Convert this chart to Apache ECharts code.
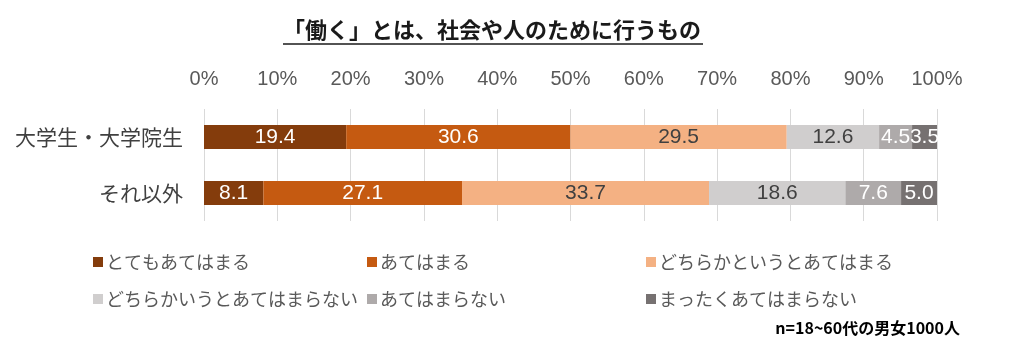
<!DOCTYPE html>
<html>
<head>
<meta charset="utf-8">
<script src="https://cdn.jsdelivr.net/npm/echarts@6/dist/echarts.min.js"></script>
<style>html,body{margin:0;padding:0;background:#fff;}#c{width:1016px;height:355px;}</style>
</head>
<body>
<div id="c"></div>
<script>
const titleText = '「働く」とは、社会や人のために行うもの';
const noteText = 'n=18~60代の男女1000人';
const categories = ['大学生・大学院生', 'それ以外'];
const seriesNames = ['とてもあてはまる', 'あてはまる', 'どちらかというとあてはまる', 'どちらかいうとあてはまらない', 'あてはまらない', 'まったくあてはまらない'];
const s1 = [19.4, 8.1];
const s2 = [30.6, 27.1];
const s3 = [29.5, 33.7];
const s4 = [12.6, 18.6];
const s5 = [4.5, 7.6];
const s6 = [3.5, 5.0];
const tickValues = [0, 10, 20, 30, 40, 50, 60, 70, 80, 90, 100];

const colors = ['#843C0C', '#C55A11', '#F4B183', '#D0CECE', '#AEAAAA', '#767171'];
const labelColors = ['#FFFFFF', '#FFFFFF', '#404040', '#404040', '#FFFFFF', '#FFFFFF'];
const seriesData = [s1, s2, s3, s4, s5, s6];
const CJK = '"Noto Sans CJK JP", "Noto Sans", sans-serif';
const NUM = '"Liberation Sans", Arial, sans-serif';

const chart = echarts.init(document.getElementById('c'), null, {renderer: 'canvas'});

const legendPos = [[88, 248], [362, 248], [641, 248], [88, 285], [362, 285], [641, 285]];

const option = {
  backgroundColor: '#ffffff',
  animation: false,
  title: {
    text: titleText,
    left: 283,
    top: 19,
    padding: 0,
    textStyle: {fontFamily: CJK, fontSize: 22, fontWeight: 'bold', color: '#1a1a1a'}
  },
  graphic: [
    {type: 'line', shape: {x1: 283, y1: 44, x2: 703, y2: 44}, style: {stroke: '#1a1a1a', lineWidth: 1.5}},
    {type: 'text', right: 56, top: 320, style: {text: noteText, font: 'bold 16px ' + CJK, fill: '#000'}}
  ],
  legend: seriesNames.map((n, i) => ({
    data: [n],
    left: legendPos[i][0],
    top: legendPos[i][1],
    itemWidth: 10,
    itemHeight: 10,
    itemGap: 0,
    icon: 'rect',
    selectedMode: false,
    textStyle: {fontFamily: CJK, fontSize: 18, color: '#595959', padding: [0, 0, 0, -2]}
  })),
  grid: {left: 204, right: 79, top: 109, height: 112, containLabel: false},
  xAxis: {
    type: 'value',
    position: 'top',
    min: 0,
    max: 100,
    interval: 10,
    axisLine: {show: false},
    axisTick: {show: false},
    splitLine: {show: true, lineStyle: {color: '#D9D9D9', width: 1}},
    axisLabel: {formatter: v => v + '%', fontFamily: NUM, fontSize: 20, color: '#595959', margin: 20}
  },
  yAxis: {
    type: 'category',
    data: categories,
    inverse: true,
    axisLine: {show: false},
    axisTick: {show: false},
    axisLabel: {fontFamily: CJK, fontSize: 21, color: '#404040', margin: 21}
  },
  series: seriesNames.map((n, i) => ({
    name: n,
    type: 'bar',
    stack: 'total',
    barWidth: 24,
    data: seriesData[i],
    itemStyle: {color: colors[i]},
    label: {
      show: true,
      position: 'inside',
      formatter: p => p.value.toFixed(1),
      fontFamily: NUM,
      fontSize: 21,
      color: labelColors[i]
    }
  }))
};
chart.setOption(option);
</script>
</body>
</html>
